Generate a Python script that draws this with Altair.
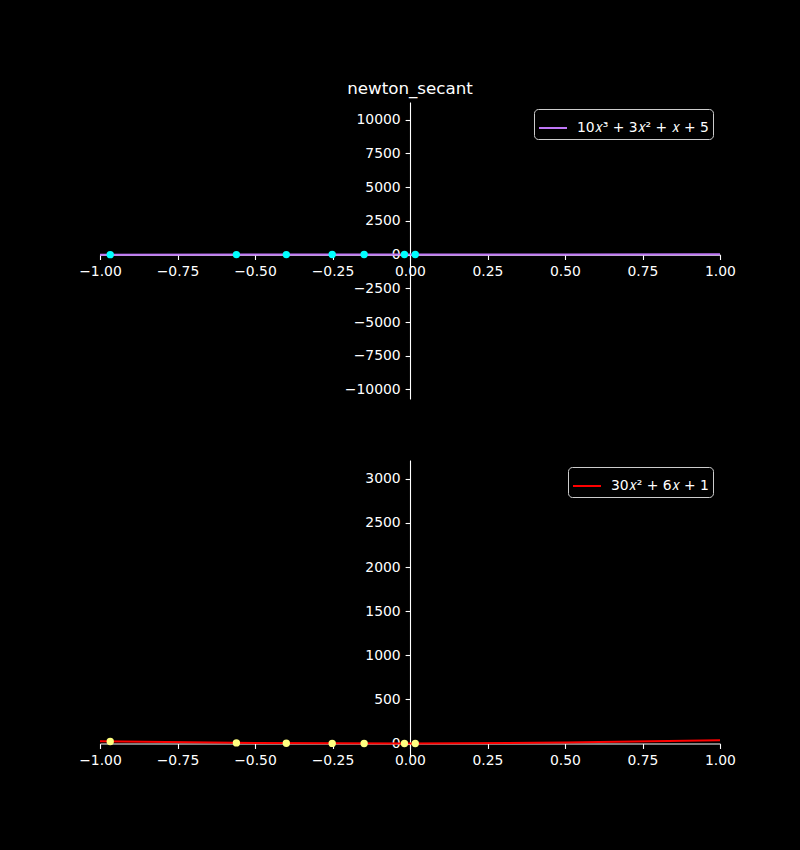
import altair as alt
import pandas as pd

# ---- data ----
x_line = [-1.0, -0.5, 0.0, 0.5, 1.0]
f_line = [-3.0, 4.0, 5.0, 7.5, 19.0]          # 10x^3+3x^2+x+5 (visible part)
df_line = [25.0, 5.5, 1.0, 11.5, 37.0]        # 30x^2+6x+1 (visible part)

x_pts = [-0.967, -0.560, -0.399, -0.251, -0.148, -0.018, 0.017]
f_pts = [-2.2, 3.6, 4.4, 4.8, 4.9, 5.0, 5.0]
df_pts = [23.3, 7.1, 3.4, 1.4, 0.8, 0.9, 1.1]

x_ticks = [-1.0, -0.75, -0.5, -0.25, 0.0, 0.25, 0.5, 0.75, 1.0]
top_y_ticks = [-10000, -7500, -5000, -2500, 0, 2500, 5000, 7500, 10000]
bot_y_ticks = [0, 500, 1000, 1500, 2000, 2500, 3000]
top_domain = [-10706, 11316]
bot_domain = [-152.3, 3214.0]

top_label = "10𝑥³ + 3𝑥² + 𝑥 + 5"
bot_label = "30𝑥² + 6𝑥 + 1"
title_text = "newton_secant"

W, H = 620, 297


def panel(ly, px, py, domain, yticks, label, line_color, pt_color, title=None):
    zero_frac = (0 - domain[0]) / (domain[1] - domain[0])
    xoff = -zero_frac * H
    xs = alt.Scale(domain=[-1, 1], nice=False, zero=False)
    ys = alt.Scale(domain=domain, nice=False, zero=False)
    xax = alt.Axis(values=x_ticks, format=".2f", offset=xoff, orient="bottom",
                   title=None, grid=False, labelFlush=False, labelOverlap=False)
    yax = alt.Axis(values=yticks, format="d", offset=-W / 2, orient="left",
                   title=None, grid=False, labelFlush=False, labelOverlap=False)
    ldf = pd.DataFrame({"x": x_line, "y": ly, "s": [label] * len(x_line)})
    pdf = pd.DataFrame({"x": x_pts, "y": py})
    line = alt.Chart(ldf).mark_line(strokeWidth=2, clip=True).encode(
        x=alt.X("x:Q", scale=xs, axis=xax),
        y=alt.Y("y:Q", scale=ys, axis=yax),
        color=alt.Color("s:N", scale=alt.Scale(domain=[label], range=[line_color]),
                        legend=alt.Legend(title=None, orient="top-right", offset=7,
                                          padding=4, fillColor="black",
                                          strokeColor="#cccccc", cornerRadius=4,
                                          symbolType="stroke", symbolSize=784,
                                          symbolStrokeWidth=2, labelOffset=9)),
    )
    pts = alt.Chart(pdf).mark_circle(size=54, opacity=1, color=pt_color).encode(
        x=alt.X("x:Q", scale=xs, axis=xax),
        y=alt.Y("y:Q", scale=ys, axis=yax),
    )
    layers = [line, pts]
    if title:
        t = alt.Chart(pd.DataFrame({"t": [title]})).mark_text(
            fontSize=16.7, color="white", font="DejaVu Sans",
            baseline="alphabetic", align="center").encode(
            x=alt.value(W / 2), y=alt.value(-8.3), text="t:N")
        layers.append(t)
    return alt.layer(*layers).properties(width=W, height=H)


top = panel(f_line, x_pts, f_pts, top_domain, top_y_ticks, top_label,
            "#bf77f6", "#00ffff", title=title_text)
bot = panel(df_line, x_pts, df_pts, bot_domain, bot_y_ticks, bot_label,
            "#ff0000", "#ffff80")

chart = alt.vconcat(top, bot, spacing=61, bounds="flush").resolve_scale(
    color="independent", x="independent", y="independent"
).resolve_legend(color="independent").properties(
    padding={"left": 78, "top": 80, "right": 64, "bottom": 84},
    background="black",
).configure_view(stroke=None).configure_axis(
    domainColor="white", tickColor="white", labelColor="white",
    labelFont="DejaVu Sans", labelFontSize=13.9, tickSize=4.9,
    labelPadding=4.9, domainWidth=1.1, tickWidth=1.1,
).configure_legend(
    labelColor="white", labelFont="DejaVu Sans", labelFontSize=13.9,
)

chart.save("out.html", embed_options={"renderer": "svg", "actions": False})
